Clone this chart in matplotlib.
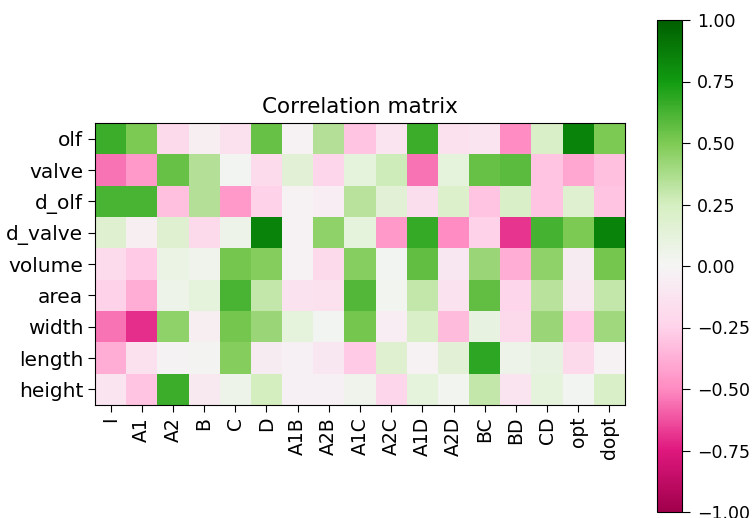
"""
Correlation matrix heatmap.
"""

import numpy as np
from matplotlib import pyplot as plt
from matplotlib.colors import LinearSegmentedColormap

# Data #
row_labels = ["olf", "valve", "d_olf", "d_valve", "volume", "area", "width", "length", "height"]
col_labels = ["I", "A1", "A2", "B", "C", "D", "A1B", "A2B", "A1C", "A2C", "A1D", "A2D",
              "BC", "BD", "CD", "opt", "dopt"]

olf = [0.65, 0.5, -0.2, -0.05, -0.15, 0.55, -0.03, 0.35, -0.3, -0.12, 0.65, -0.15, -0.12, -0.5, 0.22, 0.85, 0.5]
valve = [-0.55, -0.45, 0.55, 0.35, 0.02, -0.18, 0.15, -0.22, 0.12, 0.27, -0.55, 0.12, 0.55, 0.58, -0.3, -0.4, -0.32]
d_olf = [0.62, 0.62, -0.32, 0.35, -0.45, -0.25, -0.03, -0.06, 0.33, 0.15, -0.17, 0.2, -0.3, 0.22, -0.3, 0.18, -0.3]
d_valve = [0.18, -0.05, 0.18, -0.2, 0.06, 0.85, -0.03, 0.45, 0.12, -0.45, 0.67, -0.5, -0.25, -0.68, 0.63, 0.5, 0.85]
volume = [-0.18, -0.28, 0.08, 0.04, 0.52, 0.48, -0.03, -0.2, 0.47, 0.02, 0.57, -0.1, 0.42, -0.38, 0.45, -0.07, 0.52]
area = [-0.25, -0.38, 0.05, 0.12, 0.62, 0.3, -0.13, -0.15, 0.6, 0.03, 0.3, -0.13, 0.57, -0.22, 0.33, -0.08, 0.3]
width = [-0.55, -0.7, 0.45, -0.05, 0.52, 0.42, 0.12, 0.02, 0.52, -0.06, 0.22, -0.33, 0.1, -0.2, 0.42, -0.28, 0.4]
length = [-0.38, -0.15, -0.02, 0.01, 0.48, -0.07, -0.04, -0.1, -0.28, 0.18, -0.03, 0.15, 0.68, 0.06, 0.1, -0.2, -0.03]
height = [-0.12, -0.3, 0.65, -0.08, 0.06, 0.25, -0.04, -0.04, 0.04, -0.22, 0.12, 0.03, 0.3, -0.12, 0.12, 0.02, 0.22]

corr = np.array([olf, valve, d_olf, d_valve, volume, area, width, length, height])

# Brighter PiYG-like colormap as seen in the picture
cmap = LinearSegmentedColormap.from_list("piyg_bright", [
    "#a0004c", "#e0187e", "#ff8cc2", "#ffd3ea", "#f5f5f5",
    "#d6efc2", "#7fcb55", "#129c12", "#005f00"])

W, H = 752, 518
fig = plt.figure(figsize=(W / 100, H / 100), dpi=100)
ax = fig.add_axes([95 / W, 1 - 405 / H, 530 / W, 282 / H])
im = ax.imshow(corr, cmap=cmap, vmin=-1, vmax=1, aspect="auto")

ax.set_xticks(np.arange(len(col_labels)))
ax.set_xticklabels(col_labels, rotation=90)
ax.set_yticks(np.arange(len(row_labels)))
ax.set_yticklabels(row_labels)
ax.tick_params(axis="x", labelsize=13.5, length=5)
ax.tick_params(axis="y", labelsize=14.5, length=5)
ax.set_title("Correlation matrix", fontsize=15.5, pad=7)

cax = fig.add_axes([657 / W, 1 - 512 / H, 25 / W, 492 / H])
cbar = fig.colorbar(im, cax=cax)
cbar.set_ticks([-1, -0.75, -0.5, -0.25, 0, 0.25, 0.5, 0.75, 1])
cbar.ax.tick_params(labelsize=12.5, length=6, pad=5)

fig.savefig("out.png", dpi=100)
